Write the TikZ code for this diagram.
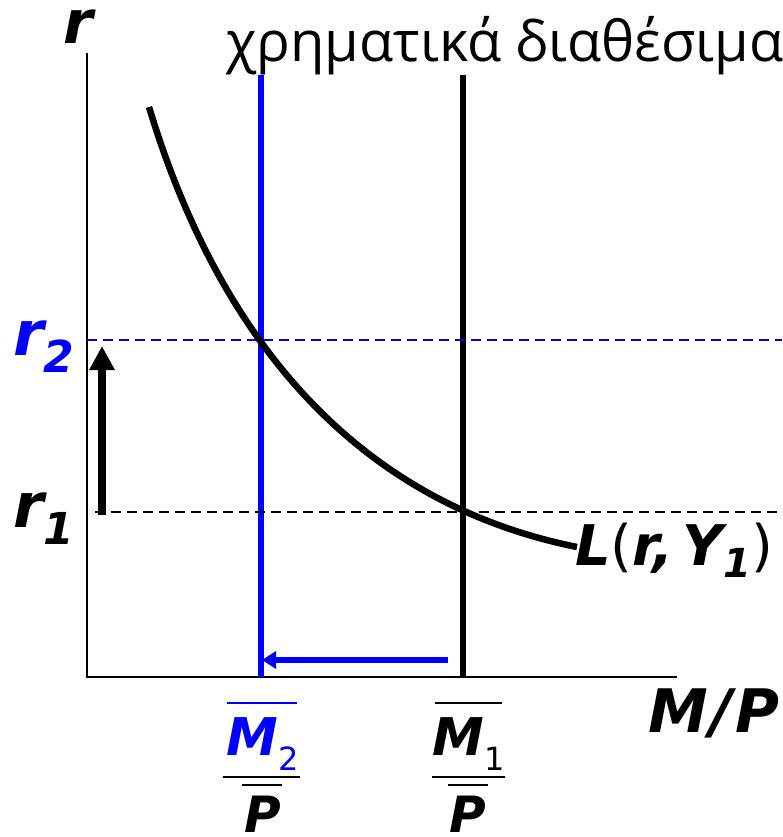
\documentclass[tikz,border=0pt]{standalone}
\usepackage{fontspec}
\setmainfont{DejaVu Sans}
\newfontfamily\greekfont{Open Sans}
\usetikzlibrary{arrows.meta}
\definecolor{myblue}{RGB}{0,0,255}
\newcommand{\fsz}[1]{\fontsize{#1}{#1}\selectfont}
\begin{document}
\begin{tikzpicture}[x=1pt,y=-1pt,
  bi/.style={inner sep=0pt, font=\bfseries\itshape},
  axisline/.style={line width=2.8pt},
  supply/.style={line width=5.5pt},
  hdash/.style={line width=1.7pt, dash pattern=on 10pt off 6pt},
  fracline/.style={line width=2.8pt}]
\useasboundingbox (0,0) rectangle (782,837);
% axes
\coordinate (O) at (87,677);
\coordinate (Ytop) at (87,53);
\coordinate (Xend) at (677,677);
\draw[axisline] (Ytop) -- (O) -- (Xend);
% money supply lines
\coordinate (B1) at (261,75); \coordinate (B0) at (261,677);
\coordinate (K1) at (463,75); \coordinate (K0) at (463,677);
\draw[supply, myblue] (B1) -- (B0);
\draw[supply, black] (K1) -- (K0);
% dashed levels
\coordinate (r2a) at (87,340); \coordinate (r2b) at (782,340);
\coordinate (r1a) at (95,512); \coordinate (r1b) at (782,512);
\draw[hdash, myblue] (r2a) -- (r2b);
\draw[hdash, black] (r1a) -- (r1b);
% demand curve
\coordinate (c0) at (149,107);
\coordinate (c3) at (577,547);
\draw[line width=6.5pt] (c0) .. controls (224.2,355.8) and (369.8,505.4) .. (c3);
% arrows
\coordinate (ua0) at (102,515); \coordinate (ua1) at (102,346);
\draw[line width=8.5pt, -{Triangle[length=24pt,width=24pt]}] (ua0) -- (ua1);
\coordinate (la0) at (448,660); \coordinate (la1) at (262,660);
\draw[line width=5.5pt, myblue, -{Triangle[length=14pt,width=17pt]}] (la0) -- (la1);
% labels
\node[bi, anchor=base, font=\bfseries\itshape\fsz{60}] (rlab) at (78,44) {r};
\node[bi, anchor=base west, myblue, font=\bfseries\itshape\fsz{62}] (r2lab) at (13,355) {r\raisebox{-0.28em}{\fsz{44}2}};
\node[bi, anchor=base west, black, font=\bfseries\itshape\fsz{62}] (r1lab) at (13,527) {r\raisebox{-0.28em}{\fsz{44}1}};
\node[bi, anchor=base west, font=\bfseries\itshape\fsz{56}] (Llab) at (575,565) {L{\mdseries\upshape(}r,\,Y\raisebox{-0.22em}{\fsz{40}1}{\mdseries\upshape)}};
\node[bi, anchor=base east, font=\bfseries\itshape\fsz{60}] (MPlab) at (780,732) {M\hspace{3pt}/\hspace{3pt}P};
\node[anchor=base west, inner sep=0pt, font=\greekfont\fsz{56}] (title) at (226,62) {χρηματικά διαθέσιμα};
% fraction M2/P
\node[bi, anchor=base west, myblue, font=\bfseries\itshape\fsz{52}] (M2) at (226,755) {M};
\node[inner sep=0pt, anchor=base west, myblue, font=\fsz{32}] (s2) at (M2.base east) [yshift=-15pt] {2};
\draw[fracline, myblue] (227,703) -- (297,703);
\draw[fracline] (223,777) -- (300,777);
\draw[fracline] (242,785) -- (282,785);
\node[bi, anchor=base, font=\bfseries\itshape\fsz{50}] (P2) at (263,832) {P};
% fraction M1/P
\node[bi, anchor=base west, font=\bfseries\itshape\fsz{52}] (M1) at (432,755) {M};
\node[inner sep=0pt, anchor=base west, font=\fsz{32}] (s1) at (M1.base east) [yshift=-15pt] {1};
\draw[fracline] (435,703) -- (502,703);
\draw[fracline] (432,777) -- (505,777);
\draw[fracline] (448,785) -- (488,785);
\node[bi, anchor=base, font=\bfseries\itshape\fsz{50}] (P1) at (468,832) {P};
\end{tikzpicture}
\end{document}
